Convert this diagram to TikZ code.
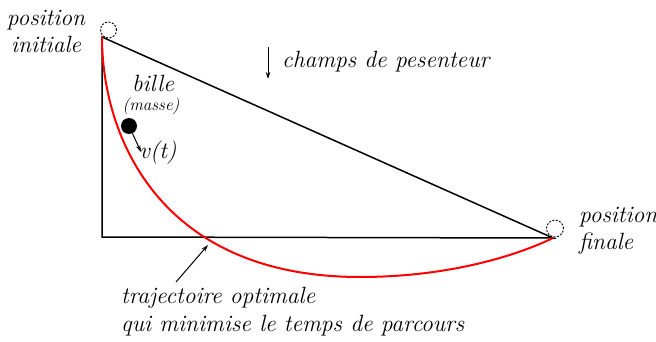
\documentclass[tikz,border=0pt]{standalone}
\usetikzlibrary{arrows.meta}
\begin{document}
\begin{tikzpicture}[x=1pt,y=-1pt,
  lbl/.style={font=\fontsize{23.5}{27}\selectfont\itshape, inner sep=0pt},
  frame/.style={draw=black, line width=1.5pt},
  path/.style={draw=red, line width=2pt},
  ring/.style={draw=black, line width=0.9pt, dash pattern=on 2pt off 1.5pt},
  arr/.style={draw=black, line width=1pt, -{Stealth[length=7pt,width=4.5pt]}}]
\useasboundingbox (0,0) rectangle (656,342);
% corner points
\coordinate (A) at (102,37);
\coordinate (C) at (102,237);
\coordinate (B) at (553,238);
\coordinate (Bot) at (360,277);
% frame
\draw[frame] (A) -- (C) -- (B) -- cycle;
% optimal trajectory
\draw[path] (A) .. controls (102,137) and (160,277) .. (Bot)
               .. controls (450,277) and (518,255) .. (B);
% rings
\node[ring, circle, minimum size=16pt, inner sep=0pt] (ringA) at (108.5,30) {};
\node[ring, circle, minimum size=17pt, inner sep=0pt] (ringB) at (555,228.5) {};
% labels
\node[lbl, align=center] (pinit) at (46,31) {position\\initiale};
\node[lbl, align=left, anchor=west] (pfin) at (579,231) {position\\finale};
\node[lbl] (bille) at (153,83) {bille};
\node[font=\fontsize{17}{20}\selectfont\itshape, inner sep=0pt] (masse) at (151,106) {(masse)};
\node[fill=black, circle, minimum size=16pt, inner sep=0pt] (ball) at (129,126) {};
\node[lbl] (vt) at (158,153) {v(t)};
\coordinate (vtip) at (141,152);
\draw[arr] (ball.-65) -- (vtip);
% gravity
\node[lbl, anchor=west] (grav) at (282,62) {champs de pesenteur};
\coordinate (g1) at (268,47);
\coordinate (g2) at (268,79);
\draw[arr] (g1) -- (g2);
% trajectory label
\node[lbl, anchor=west] (traj1) at (121,298) {trajectoire optimale};
\node[lbl, anchor=west] (traj2) at (121,326) {qui minimise le temps de parcours};
\coordinate (t0) at (176,282);
\coordinate (t1) at (208,245);
\draw[arr] (t0) -- (t1);
\end{tikzpicture}
\end{document}
